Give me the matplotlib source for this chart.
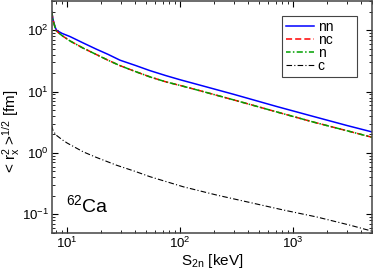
import matplotlib
matplotlib.use("Agg")
import matplotlib.pyplot as plt

plt.rcParams['font.family'] = ['Liberation Sans', 'DejaVu Sans']
plt.rcParams['mathtext.fontset'] = 'custom'
plt.rcParams['mathtext.rm'] = 'Liberation Sans'
plt.rcParams['mathtext.it'] = 'Liberation Sans'
plt.rcParams['mathtext.bf'] = 'Liberation Sans'

# S2n [keV] and radii [fm]
s2n = [7.3, 7.5, 7.8, 8.05, 9.0, 10.6, 13.9, 18, 23, 29.4, 40, 54, 75, 100,
       151, 300, 720, 1500, 3000, 5000]
r_nn = [200, 150, 115, 100, 89, 79, 62, 49.5, 40.5, 32.5, 26.8, 22, 18.2, 15.6,
        12.7, 9.0, 5.7, 3.95, 2.8, 2.2]
r_nc = [200, 148, 112, 97, 82, 67, 51, 40.5, 32.5, 26.5, 21.3, 17.4, 14.4, 12.6,
        10.3, 7.3, 4.65, 3.2, 2.3, 1.8]
r_n = [200, 148, 112, 97, 82, 67, 51, 40.5, 32.5, 26.5, 21.3, 17.4, 14.4, 12.6,
       10.3, 7.3, 4.65, 3.2, 2.3, 1.8]

s2n_c = [7.3, 7.5, 8.0, 9.0, 10, 13.9, 18, 27.4, 40, 54, 107, 212, 418, 826,
         1633, 3230, 5000]
r_c = [2.8, 2.3, 1.95, 1.65, 1.45, 1.04, 0.85, 0.63, 0.5, 0.41, 0.28, 0.205,
       0.155, 0.117, 0.09, 0.066, 0.053]

fig = plt.figure(figsize=(3.73, 2.73), dpi=100)
ax = fig.add_axes([0.1386, 0.1476, 0.8587, 0.8487])

ax.plot(s2n, r_nn, color='blue', lw=1.1, label='nn')
ax.plot(s2n, r_nc, color='red', lw=1.1, ls=(0, (4, 2)), label='nc')
ax.plot(s2n, r_n, color='#00a000', lw=1.1, ls=(1, (4, 1.5, 1, 1.5)), label='n')
ax.plot(s2n_c, r_c, color='black', lw=0.8, ls=(0, (5, 2, 1, 2)), label='c')

ax.set_xscale('log')
ax.set_yscale('log')
ax.set_xlim(7.3, 5000)
ax.set_ylim(0.05, 300)

ax.tick_params(which='both', direction='in', top=True, right=True, labelsize=9.5, pad=2)
ax.tick_params(which='major', length=4, width=0.8)
ax.tick_params(which='minor', length=2.2, width=0.6)
for s in ax.spines.values():
    s.set_linewidth(1.1)
    s.set_color('#444444')

ax.set_xlabel(r'S$_{\mathregular{2n}}$ [keV]', fontsize=11, labelpad=1)
ax.set_ylabel(r'< r$_{\mathregular{x}}^{\mathregular{2}}$ >$^{\mathregular{1/2}}$ [fm]',
              fontsize=11)
ax.yaxis.set_label_coords(-0.092, 0.437)

ax.text(0.045, 0.088, r'$^{\mathregular{62}}$Ca', transform=ax.transAxes, fontsize=14)

leg = ax.legend(loc='upper left', bbox_to_anchor=(0.72, 0.703, 0.234, 0.234),
                mode='expand', borderaxespad=0,
                fontsize=10, fancybox=False, framealpha=1, edgecolor='#444444',
                handlelength=2.0, handletextpad=0.25, labelspacing=-0.06,
                borderpad=0.3)
leg.get_frame().set_linewidth(0.8)

fig.savefig('out.png', dpi=100)
